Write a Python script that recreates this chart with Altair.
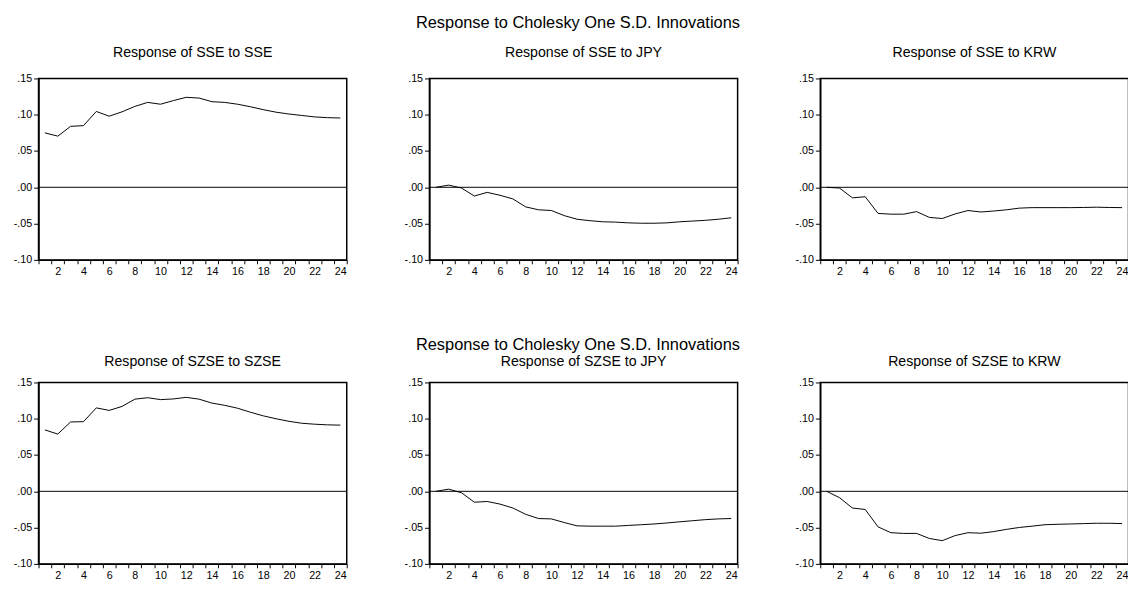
import altair as alt
import pandas as pd

periods = list(range(1, 25))

row_title = "Response to Cholesky One S.D. Innovations"

titles_row1 = ["Response of SSE to SSE", "Response of SSE to JPY", "Response of SSE to KRW"]
titles_row2 = ["Response of SZSE to SZSE", "Response of SZSE to JPY", "Response of SZSE to KRW"]

sse_sse = [0.075, 0.0705, 0.084, 0.085, 0.1045, 0.098, 0.104, 0.1115, 0.117, 0.1145, 0.1195, 0.124,
           0.123, 0.118, 0.117, 0.1145, 0.111, 0.107, 0.1035, 0.101, 0.099, 0.097, 0.096, 0.0955]
sse_jpy = [0.000, 0.003, -0.001, -0.012, -0.007, -0.011, -0.016, -0.027, -0.031, -0.032, -0.039, -0.044,
           -0.046, -0.0475, -0.048, -0.049, -0.0495, -0.0495, -0.049, -0.0475, -0.0465, -0.0455, -0.044, -0.042]
sse_krw = [0.000, -0.001, -0.0145, -0.013, -0.036, -0.037, -0.037, -0.0335, -0.0415, -0.043, -0.0367, -0.032,
           -0.034, -0.0327, -0.031, -0.0287, -0.028, -0.028, -0.028, -0.028, -0.0278, -0.0274, -0.0278, -0.028]
szse_szse = [0.0846, 0.0789, 0.0956, 0.096, 0.115, 0.1115, 0.117, 0.127, 0.129, 0.1264, 0.1273, 0.1295,
             0.127, 0.1216, 0.1185, 0.1145, 0.109, 0.104, 0.100, 0.0965, 0.0938, 0.0925, 0.0916, 0.0912]
szse_jpy = [0.000, 0.003, -0.002, -0.015, -0.014, -0.0176, -0.023, -0.0317, -0.0375, -0.038, -0.043, -0.0476,
            -0.048, -0.048, -0.048, -0.047, -0.046, -0.045, -0.0436, -0.042, -0.0405, -0.039, -0.038, -0.0375]
szse_krw = [0.000, -0.0088, -0.023, -0.025, -0.049, -0.057, -0.058, -0.058, -0.065, -0.068, -0.061, -0.057,
            -0.0577, -0.0555, -0.0524, -0.0498, -0.048, -0.046, -0.0454, -0.045, -0.0445, -0.044, -0.044, -0.0445]

y_ticks = [-0.10, -0.05, 0.00, 0.05, 0.10, 0.15]
x_ticks = [i + 0.5 for i in range(0, 25)]

W, H = 316, 186
FONT = "Liberation Sans"
YDOM = [-0.10, 0.15]


def y_axis():
    return alt.Axis(
        values=y_ticks,
        labelExpr="(datum.value < -0.0001 ? '-' : '') + replace(format(abs(datum.value), '.2f'), '0.', '.')",
        tickSize=5,
        labelPadding=2,
        title=None,
        grid=False,
        labelFlush=False,
        labelOverlap=False,
        minExtent=26,
        maxExtent=26,
    )


def panel(title, values, title_offset):
    df = pd.DataFrame({"period": periods, "value": values})
    x = alt.X(
        "period:Q",
        scale=alt.Scale(domain=[0.5, 24.5], nice=False, zero=False),
        axis=alt.Axis(
            values=x_ticks,
            labelExpr="(datum.value + 0.5) % 2 == 0 ? format(datum.value + 0.5, 'd') : ''",
            labelOffset=W / 24 / 2,
            labelFlush=False,
            labelOverlap=False,
            tickSize=4,
            labelPadding=2,
            title=None,
            grid=False,
        ),
    )
    yscale = alt.Scale(domain=YDOM, nice=False, zero=False)
    line = alt.Chart(df).mark_line(color="black", strokeWidth=1).encode(
        x=x, y=alt.Y("value:Q", scale=yscale, axis=y_axis())
    )
    zero = alt.Chart(pd.DataFrame({"value": [0.0]})).mark_rule(color="black", strokeWidth=1).encode(
        y=alt.Y("value:Q", scale=yscale, axis=y_axis())
    )
    return alt.layer(line, zero).properties(
        width=W,
        height=H,
        title=alt.TitleParams(title, fontSize=14.5, font=FONT, fontWeight="normal",
                              offset=title_offset, color="black"),
    )


def row(titles, series, panel_offset, row_offset):
    return alt.hconcat(*[panel(t, s, panel_offset) for t, s in zip(titles, series)], spacing=49.75).properties(
        title=alt.TitleParams(row_title, fontSize=16.8, font=FONT, fontWeight="normal", anchor="middle",
                              offset=row_offset, dx=4, color="black")
    )


row1 = row(titles_row1, [sse_sse, sse_jpy, sse_krw], 12.2, 13)
row2 = row(titles_row2, [szse_szse, szse_jpy, szse_krw], 7.5, 0)

chart = alt.vconcat(row1, row2, spacing=60.7).properties(
    padding={"left": 4.3, "top": 0, "right": -8, "bottom": -8},
    background="white",
).configure_view(
    stroke="black", strokeWidth=1.5
).configure_axis(
    domainColor="black", domainWidth=1.5, tickColor="black", tickWidth=1,
    labelColor="black", labelFont=FONT, labelFontSize=11
)

chart.save("out.html", embed_options={"renderer": "svg", "actions": False})
